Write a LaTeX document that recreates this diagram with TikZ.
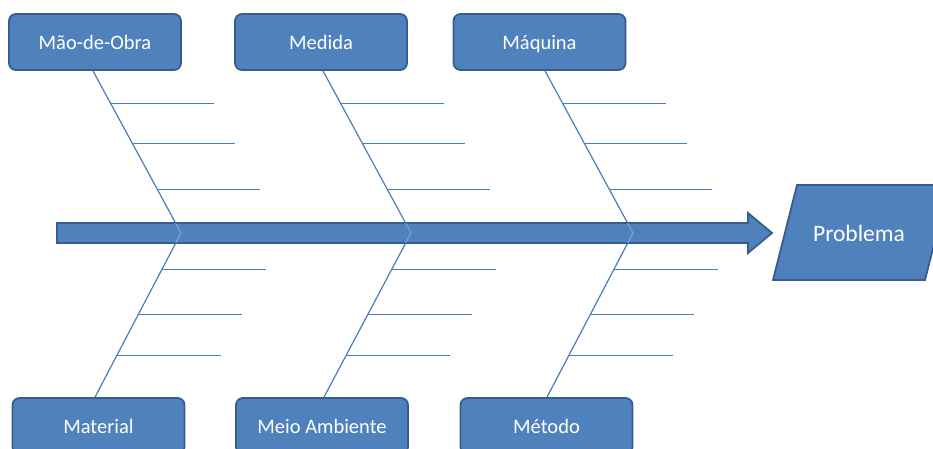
\documentclass[tikz,border=0pt]{standalone}
\usepackage{fontspec}
\setmainfont{Carlito}
\usetikzlibrary{calc}
\definecolor{boxfill}{HTML}{4F81BD}
\definecolor{boxline}{HTML}{385D8A}
\definecolor{bonecol}{HTML}{4A7EBB}
\definecolor{boneover}{HTML}{86A8D4}
\begin{document}
\begin{tikzpicture}[x=1pt,y=-1pt,
  cause/.style={draw=boxline, line width=1.8pt, fill=boxfill, rounded corners=7pt,
    minimum width=172pt, minimum height=56pt, inner sep=0pt, text=white,
    text height=17pt, text depth=3pt,
    font=\fontsize{20.5}{24}\selectfont},
  boneline/.style={draw=bonecol, line width=1.2pt},
  bonecross/.style={draw=boneover, line width=0.9pt},
  bigshape/.style={draw=boxline, fill=boxfill, line width=1.8pt, line join=miter}]
\useasboundingbox (0,0) rectangle (933,448);
\clip (0,0) rectangle (933,448);

% cause boxes
\node[cause] (mao) at (95,42) {Mão-de-Obra};
\node[cause] (med) at (321,42) {Medida};
\node[cause] (maq) at (539.5,42) {Máquina};
\node[cause] (mat) at (98.5,426) {Material};
\node[cause] (mei) at (322,426) {Meio Ambiente};
\node[cause] (met) at (546.5,426) {Método};

% bone end points on the boxes and junctions on the spine
\coordinate (t1) at ($(mao.south)+(-2,0)$);
\coordinate (t2) at ($(med.south)+(2,0)$);
\coordinate (t3) at ($(maq.south)+(5.5,0)$);
\coordinate (b1) at ($(mat.north)+(-3.5,0)$);
\coordinate (b2) at ($(mei.north)+(2,0)$);
\coordinate (b3) at ($(met.north)+(0.5,0)$);
\coordinate (j1) at (181,233);
\coordinate (j2) at (411,233);
\coordinate (j3) at (633,233);

% bones with their ribs
\foreach \i in {1,2,3}{
  \draw[boneline] (t\i) -- (j\i) -- (b\i);
  \foreach \t in {0.2025,0.4479,0.7301}
    \draw[boneline] ($(t\i)!\t!(j\i)$) -- ++(103,0);
  \foreach \t in {0.2242,0.4970,0.7455}
    \draw[boneline] ($(j\i)!\t!(b\i)$) -- ++(104,0);
}

% spine arrow
\filldraw[bigshape] (57,223) -- (748,223) -- (748,213) -- (772,233)
  -- (748,253) -- (748,243) -- (57,243) -- cycle;

% bones seen across the spine
\foreach \i in {1,2,3}
  \draw[bonecross] ($(t\i)!0.9387!(j\i)$) -- (j\i) -- ($(j\i)!0.0606!(b\i)$);

% effect
\filldraw[bigshape] (797,185) -- (949,185) -- (925,280) -- (773,280) -- cycle;
\node[text=white, inner sep=0pt, text height=19pt, text depth=3pt,
  font=\fontsize{23.5}{28}\selectfont] (prob) at (859,233) {Problema};
\end{tikzpicture}
\end{document}
